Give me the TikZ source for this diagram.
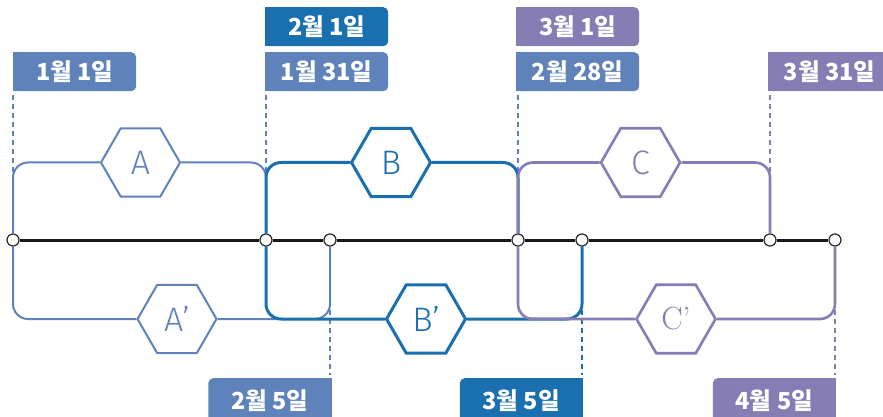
\documentclass[tikz,border=0pt]{standalone}
\usepackage{fontspec}
\newfontfamily\krfont{Noto Sans CJK KR}
\newfontfamily\hexfont{Fira Sans Light}
\usetikzlibrary{shapes.geometric, positioning}

\definecolor{lblue}{HTML}{5F82BB}
\definecolor{dblue}{HTML}{1A70AF}
\definecolor{lpurple}{HTML}{857DB3}

\tikzset{
  datelab/.style={fill=#1, text=white, rounded corners=5pt, minimum width=123pt, minimum height=39pt, inner sep=0pt, font=\krfont\bfseries\fontsize{23.5}{28}\selectfont},
  hexnode/.style={regular polygon, regular polygon sides=6, draw=#1, fill=white, text=#1, minimum size=79pt, inner sep=0pt, font=\hexfont\fontsize{34}{40}\selectfont},
  guide/.style={draw=#1, line width=2pt, dash pattern=on 5pt off 4pt},
  dot/.style={circle, draw=black!85, fill=white, line width=1.2pt, minimum size=12pt, inner sep=0pt},
  boxline/.style={draw=#1, rounded corners=15pt},
}

\begin{document}
\begin{tikzpicture}[x=1pt,y=-1pt]
	\useasboundingbox (0,0) rectangle (883,417);
	% points on the time line
	\node[dot] (t1) at (13,240) {};
	\node[dot] (t2) at (266,240) {};
	\node[dot] (t3) at (330,240) {};
	\node[dot] (t4) at (518,240) {};
	\node[dot] (t5) at (582,240) {};
	\node[dot] (t6) at (770,240) {};
	\node[dot] (t7) at (835,240) {};
	\foreach \a/\b in {t1/t2,t2/t3,t3/t4,t4/t5,t5/t6,t6/t7}
		\draw[line width=3pt, black!90] (\a) -- (\b);

	% date labels, top
	\node[datelab=lblue, anchor=north west] (jan1) at (13,52) {1월 1일};
	\node[datelab=lblue, anchor=north west] (jan31) at (265,52) {1월 31일};
	\node[datelab=dblue, anchor=north west] (feb1) at (265,7) {2월 1일};
	\node[datelab=lblue, anchor=north west] (feb28) at (516,52) {2월 28일};
	\node[datelab=lpurple, anchor=north west] (mar1) at (516,7) {3월 1일};
	\node[datelab=lpurple, anchor=north west] (mar31) at (768,52) {3월 31일};
	\fill[lblue] (jan1.north west) rectangle ([xshift=6pt]jan1.south west);
	\fill[lblue] (jan31.north west) rectangle ([xshift=6pt]jan31.south west);
	\fill[dblue] (feb1.north west) rectangle ([xshift=6pt]feb1.south west);
	\fill[lblue] (feb28.north west) rectangle ([xshift=6pt]feb28.south west);
	\fill[lpurple] (mar1.north west) rectangle ([xshift=6pt]mar1.south west);
	\fill[lpurple] (mar31.north west) rectangle ([xshift=6pt]mar31.south west);

	% date labels, bottom
	\node[datelab=lblue, minimum height=44pt, anchor=north east] (feb5) at (331.5,378) {2월 5일};
	\node[datelab=dblue, minimum height=44pt, anchor=north east] (mar5) at (583,378) {3월 5일};
	\node[datelab=lpurple, minimum height=44pt, anchor=north east] (apr5) at (836,378) {4월 5일};
	\fill[lblue] ([xshift=-6pt]feb5.north east) rectangle (feb5.south east);
	\fill[dblue] ([xshift=-6pt]mar5.north east) rectangle (mar5.south east);
	\fill[lpurple] ([xshift=-6pt]apr5.north east) rectangle (apr5.south east);

	% dashed guides
	\draw[guide=lblue, shorten <=4pt] (t1 |- jan1.south) -- (t1);
	\draw[guide=lblue, shorten <=4pt] (t2 |- jan31.south) -- (t2);
	\draw[guide=lblue, shorten <=4pt] (t4 |- feb28.south) -- (t4);
	\draw[guide=lpurple, shorten <=4pt] (t6 |- mar31.south) -- (t6);
	\draw[guide=lblue, shorten >=3pt] (t3) -- (t3 |- feb5.north);
	\draw[guide=dblue, shorten >=3pt] (t5) -- (t5 |- mar5.north);
	\draw[guide=lpurple, shorten >=3pt] (t7) -- (t7 |- apr5.north);

	% periods
	\node[hexnode=lblue, line width=2pt] (hA) at (140.5,162.5) {A};
	\node[hexnode=lblue, line width=2pt] (hAp) at (177,319) {A’};
	\draw[boxline=lblue, line width=2pt] (t1) |- (hA.west);
	\draw[boxline=lblue, line width=2pt] (hA.east) -| (t2);
	\draw[boxline=lblue, line width=2pt] (t1) |- (hAp.west);
	\draw[boxline=lblue, line width=2pt] (hAp.east) -| (t3);

	\node[hexnode=dblue, line width=3pt] (hB) at (391,162.5) {B};
	\node[hexnode=dblue, line width=3pt] (hBp) at (426,319) {B’};
	\draw[boxline=dblue, line width=3pt] (t2) |- (hB.west);
	\draw[boxline=dblue, line width=3pt] (hB.east) -| (t4);
	\draw[boxline=dblue, line width=3pt] (t2) |- (hBp.west);
	\draw[boxline=dblue, line width=3pt] (hBp.east) -| (t5);

	\node[hexnode=lpurple, line width=2.6pt] (hC) at (640.5,162.5) {C};
	\node[hexnode=lpurple, line width=2.6pt, font=\rmfamily\fontsize{32}{38}\selectfont] (hCp) at (676,319) {C’};
	\draw[boxline=lpurple, line width=2.6pt] (t4) |- (hC.west);
	\draw[boxline=lpurple, line width=2.6pt] (hC.east) -| (t6);
	\draw[boxline=lpurple, line width=2.6pt] (t4) |- (hCp.west);
	\draw[boxline=lpurple, line width=2.6pt] (hCp.east) -| (t7);
\end{tikzpicture}
\end{document}
